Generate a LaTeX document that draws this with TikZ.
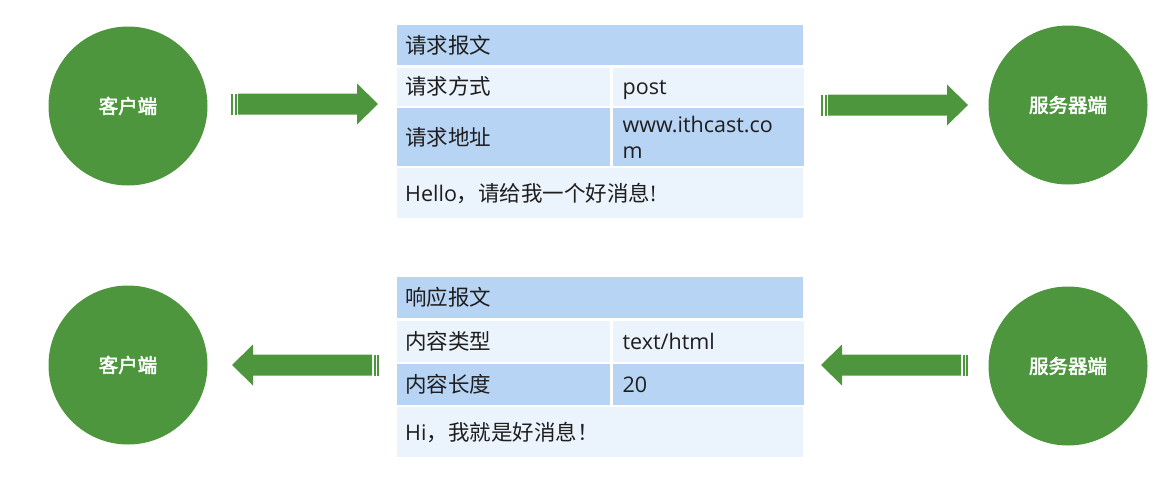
\documentclass[tikz,border=0pt]{standalone}
\usepackage{fontspec}
\setmainfont{Open Sans}
\newfontfamily\cjk{Noto Sans CJK SC}
\newfontfamily\cjkmed{Noto Sans CJK SC}[FakeBold=2.5]
\usetikzlibrary{positioning}
\definecolor{grn}{HTML}{4D963E}
\definecolor{hdrblue}{HTML}{B8D4F5}
\definecolor{paleblue}{HTML}{EBF3FD}
\definecolor{txt}{HTML}{1E1E1E}
\tikzset{
  party/.style={circle, fill=grn, minimum size=159pt, inner sep=0pt, text=white, font=\cjkmed\fontsize{19.5}{22}\selectfont},
  cell/.style={anchor=north west, inner xsep=8pt, inner ysep=0pt, text=txt, align=left, text height=19pt, text depth=2.6pt, font=\fontsize{21.5}{26}\selectfont},
  blue/.style={cell, fill=hdrblue},
  pale/.style={cell, fill=paleblue},
  fatarrow/.pic={
    \fill[grn] (0,-10.5) rectangle (2,10.5);
    \fill[grn] (3.5,-10.5) rectangle (5.5,10.5);
    \fill[grn] (7,-10.5) -- (126,-10.5) -- (126,-20.5) -- (147,0) -- (126,20.5) -- (126,10.5) -- (7,10.5) -- cycle;
  }
}
\begin{document}
\begin{tikzpicture}[x=1pt, y=-1pt]
\useasboundingbox (0,0) rectangle (1170,490);

% request
\node[party] (cli1) at (128,106) {客户端};
\node[party] (srv1) at (1068,105) {服务器端};
\node[blue, text width=390pt, minimum height=40pt] (reqhdr) at (397,25) {\cjk 请求报文};
\node[pale, text width=197pt, minimum height=38pt, below=2pt of reqhdr.south west, anchor=north west] (reqk1) {\cjk 请求方式};
\node[pale, text width=171pt, inner xsep=10pt, minimum height=38pt, right=2pt of reqk1.north east, anchor=north west] (reqv1) {post};
\node[blue, text width=197pt, minimum height=58pt, below=2pt of reqk1.south west, anchor=north west] (reqk2) {\cjk 请求地址};
\node[blue, text width=171pt, inner xsep=10pt, minimum height=58pt, text depth=28.6pt, right=2pt of reqk2.north east, anchor=north west] (reqv2) {www.ithcast.co\\m};
\node[pale, text width=390pt, minimum height=50pt, below=2pt of reqk2.south west, anchor=north west] (reqbody) {Hello{\cjk，请给我一个好消息}!};
\coordinate (a1) at (231,104);
\coordinate (a2) at (821,105);
\pic at (a1) {fatarrow};
\pic at (a2) {fatarrow};

% response
\node[party] (cli2) at (128,365) {客户端};
\node[party] (srv2) at (1068,366) {服务器端};
\node[blue, text width=390pt, minimum height=41pt] (reshdr) at (397,277) {\cjk 响应报文};
\node[pale, text width=197pt, minimum height=41pt, below=2pt of reshdr.south west, anchor=north west] (resk1) {\cjk 内容类型};
\node[pale, text width=171pt, inner xsep=10pt, minimum height=41pt, right=2pt of resk1.north east, anchor=north west] (resv1) {text/html};
\node[blue, text width=197pt, minimum height=41pt, below=2pt of resk1.south west, anchor=north west] (resk2) {\cjk 内容长度};
\node[blue, text width=171pt, inner xsep=10pt, minimum height=41pt, right=2pt of resk2.north east, anchor=north west] (resv2) {20};
\node[pale, text width=390pt, minimum height=50pt, below=2pt of resk2.south west, anchor=north west] (resbody) {Hi{\cjk，我就是好消息！}};
\coordinate (b1) at (379,365);
\coordinate (b2) at (968,365);
\pic[rotate=180] at (b1) {fatarrow};
\pic[rotate=180] at (b2) {fatarrow};
\end{tikzpicture}
\end{document}
